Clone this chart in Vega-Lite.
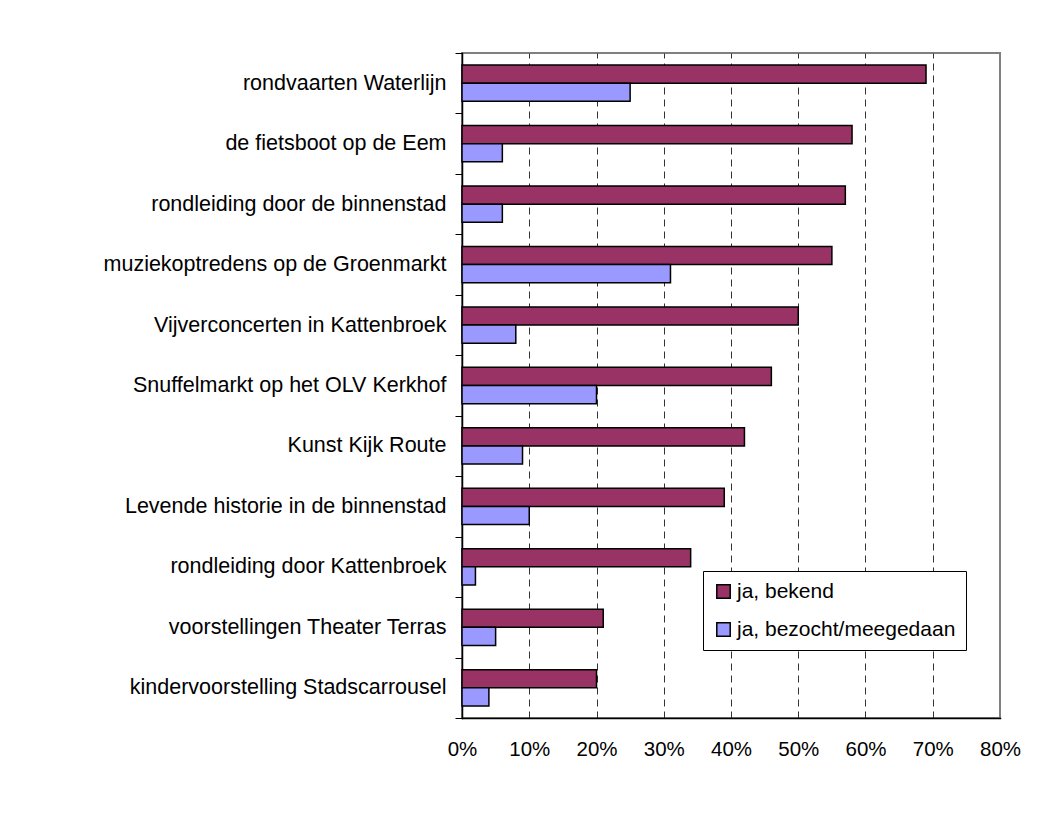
{
  "$schema": "https://vega.github.io/schema/vega-lite/v6.json",
  "width": 538,
  "height": 665,
  "padding": {"left": 8, "top": 42, "right": 10, "bottom": 10},
  "background": "white",
  "data": {
    "values": [
      {"activiteit": "rondvaarten Waterlijn", "reeks": "ja, bekend", "waarde": 0.69},
      {"activiteit": "rondvaarten Waterlijn", "reeks": "ja, bezocht/meegedaan", "waarde": 0.25},
      {"activiteit": "de fietsboot op de Eem", "reeks": "ja, bekend", "waarde": 0.58},
      {"activiteit": "de fietsboot op de Eem", "reeks": "ja, bezocht/meegedaan", "waarde": 0.06},
      {"activiteit": "rondleiding door de binnenstad", "reeks": "ja, bekend", "waarde": 0.57},
      {"activiteit": "rondleiding door de binnenstad", "reeks": "ja, bezocht/meegedaan", "waarde": 0.06},
      {"activiteit": "muziekoptredens op de Groenmarkt", "reeks": "ja, bekend", "waarde": 0.55},
      {"activiteit": "muziekoptredens op de Groenmarkt", "reeks": "ja, bezocht/meegedaan", "waarde": 0.31},
      {"activiteit": "Vijverconcerten in Kattenbroek", "reeks": "ja, bekend", "waarde": 0.50},
      {"activiteit": "Vijverconcerten in Kattenbroek", "reeks": "ja, bezocht/meegedaan", "waarde": 0.08},
      {"activiteit": "Snuffelmarkt op het OLV Kerkhof", "reeks": "ja, bekend", "waarde": 0.46},
      {"activiteit": "Snuffelmarkt op het OLV Kerkhof", "reeks": "ja, bezocht/meegedaan", "waarde": 0.20},
      {"activiteit": "Kunst Kijk Route", "reeks": "ja, bekend", "waarde": 0.42},
      {"activiteit": "Kunst Kijk Route", "reeks": "ja, bezocht/meegedaan", "waarde": 0.09},
      {"activiteit": "Levende historie in de binnenstad", "reeks": "ja, bekend", "waarde": 0.39},
      {"activiteit": "Levende historie in de binnenstad", "reeks": "ja, bezocht/meegedaan", "waarde": 0.10},
      {"activiteit": "rondleiding door Kattenbroek", "reeks": "ja, bekend", "waarde": 0.34},
      {"activiteit": "rondleiding door Kattenbroek", "reeks": "ja, bezocht/meegedaan", "waarde": 0.02},
      {"activiteit": "voorstellingen Theater Terras", "reeks": "ja, bekend", "waarde": 0.21},
      {"activiteit": "voorstellingen Theater Terras", "reeks": "ja, bezocht/meegedaan", "waarde": 0.05},
      {"activiteit": "kindervoorstelling Stadscarrousel", "reeks": "ja, bekend", "waarde": 0.20},
      {"activiteit": "kindervoorstelling Stadscarrousel", "reeks": "ja, bezocht/meegedaan", "waarde": 0.04}
    ]
  },
  "mark": {"type": "bar", "stroke": "black", "strokeWidth": 1.5},
  "encoding": {
    "y": {
      "field": "activiteit",
      "type": "nominal",
      "sort": null,
      "scale": {"paddingInner": 0, "paddingOuter": 0},
      "axis": {
        "title": null,
        "tickBand": "extent",
        "tickSize": 7,
        "tickColor": "black",
        "tickWidth": 1,
        "labelPadding": 9,
        "labelFont": "Liberation Sans",
        "labelFontSize": 21.5,
        "labelColor": "black",
        "labelLimit": 500,
        "domainColor": "black",
        "domainWidth": 1.5,
        "grid": false,
        "minExtent": 454,
        "maxExtent": 454
      }
    },
    "yOffset": {
      "field": "reeks",
      "type": "nominal",
      "sort": ["ja, bekend", "ja, bezocht/meegedaan"],
      "scale": {"paddingInner": 0, "paddingOuter": 0.667}
    },
    "x": {
      "field": "waarde",
      "type": "quantitative",
      "scale": {"domain": [0, 0.8], "nice": false},
      "axis": {
        "title": null,
        "format": ".0%",
        "values": [0, 0.1, 0.2, 0.3, 0.4, 0.5, 0.6, 0.7, 0.8],
        "tickSize": 0,
        "labelPadding": 21,
        "labelFont": "Liberation Sans",
        "labelFontSize": 20.5,
        "labelColor": "black",
        "labelFlush": false,
        "domainColor": "black",
        "domainWidth": 1.5,
        "grid": true,
        "gridColor": "#333333",
        "gridWidth": 1,
        "gridDash": [7, 5],
        "gridOpacity": {"condition": {"test": "datum.value <= 0 || datum.value >= 0.8", "value": 0}, "value": 1}
      }
    },
    "fill": {
      "field": "reeks",
      "type": "nominal",
      "sort": ["ja, bekend", "ja, bezocht/meegedaan"],
      "scale": {"domain": ["ja, bekend", "ja, bezocht/meegedaan"], "range": ["#993366", "#9999FF"]},
      "legend": {
        "title": null,
        "orient": "none",
        "legendX": 241,
        "legendY": 518,
        "direction": "vertical",
        "fillColor": "white",
        "strokeColor": "black",
        "padding": 10,
        "rowPadding": 16,
        "symbolType": "square",
        "symbolSize": 180,
        "symbolStrokeColor": "black",
        "symbolStrokeWidth": 1.5,
        "labelFont": "Liberation Sans",
        "labelFontSize": 21,
        "labelColor": "black",
        "labelOffset": 3,
        "labelLimit": 400
      }
    }
  },
  "config": {
    "view": {"stroke": "#808080", "strokeWidth": 2},
    "axis": {"domainCap": "square"}
  }
}
